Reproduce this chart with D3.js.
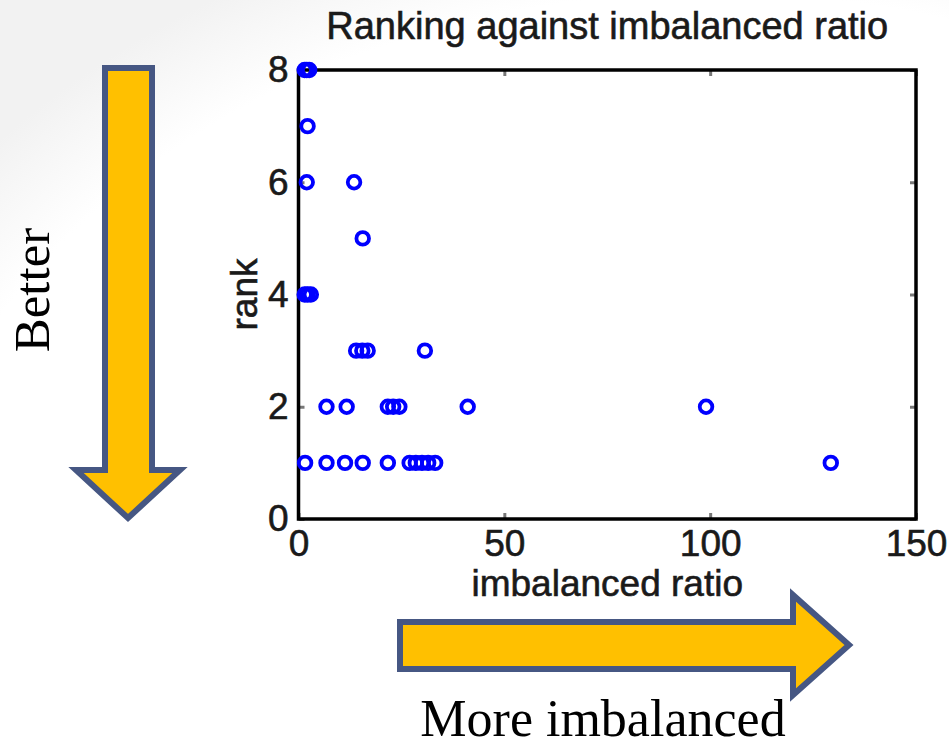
<!DOCTYPE html>
<html>
<head>
<meta charset="utf-8">
<script src="https://cdn.jsdelivr.net/npm/d3@7"></script>
<style>
  body { margin: 0; background: #fff; }
  svg { display: block; }
</style>
</head>
<body>
<div id="chart"></div>
<script>
// ranking against imbalanced ratio (scatter)
const ratios = [1.5, 2.0, 2.6, 2.2, 2.0, 13.5, 15.6, 1.5, 2.2, 3.0,
                14.0, 15.5, 16.8, 30.7,
                6.8, 11.7, 21.7, 23.0, 24.5, 41.1, 99.0,
                1.6, 6.8, 11.3, 15.6, 21.7, 27.0, 28.5, 30.0, 31.5, 33.2, 129.3];
const ranks  = [8, 8, 8, 7, 6, 6, 5, 4, 4, 4,
                3, 3, 3, 3,
                2, 2, 2, 2, 2, 2, 2,
                1, 1, 1, 1, 1, 1, 1, 1, 1, 1, 1];
const xTicks = [0, 50, 100, 150];
const yTicks = [0, 2, 4, 6, 8];

const W = 949, H = 738;
const plot = { left: 298.5, right: 916, top: 70, bottom: 519 };

const svg = d3.select("#chart").append("svg")
  .attr("width", W)
  .attr("height", H);

// faint slide shading in the top-left corner
const defs = svg.append("defs");
const grad = defs.append("radialGradient")
  .attr("id", "bg").attr("cx", "0.75").attr("cy", "0.85").attr("r", "1.0");
grad.append("stop").attr("offset", "0.86").attr("stop-color", "#ffffff");
grad.append("stop").attr("offset", "1").attr("stop-color", "#f2f2f2");
svg.append("rect").attr("width", W).attr("height", H).attr("fill", "url(#bg)");

const x = d3.scaleLinear().domain([0, 150]).range([plot.left, plot.right]);
const y = d3.scaleLinear().domain([0, 8]).range([plot.bottom, plot.top]);

const font = "'Liberation Sans', Arial, sans-serif";
const ink = "#1a1a1a";

const styleText = sel => sel
  .attr("font-family", font)
  .attr("font-size", 37)
  .attr("fill", ink)
  .attr("stroke", ink)
  .attr("stroke-width", 0.6);

// ticks (inward, grey) on all four sides
svg.append("g")
  .attr("transform", `translate(0,${plot.bottom})`)
  .call(d3.axisBottom(x).tickValues(xTicks).tickSize(-6).tickSizeOuter(0).tickPadding(11))
  .call(g => g.select(".domain").remove())
  .call(g => g.selectAll("line").attr("stroke", "#777").attr("stroke-width", 3))
  .call(g => g.selectAll("text").call(styleText));

svg.append("g")
  .attr("transform", `translate(0,${plot.top})`)
  .call(d3.axisTop(x).tickValues(xTicks).tickSize(-6).tickSizeOuter(0).tickFormat(""))
  .call(g => g.select(".domain").remove())
  .call(g => g.selectAll("line").attr("stroke", "#777").attr("stroke-width", 3));

svg.append("g")
  .attr("transform", `translate(${plot.left},0)`)
  .call(d3.axisLeft(y).tickValues(yTicks).tickSize(-6).tickSizeOuter(0).tickPadding(10))
  .call(g => g.select(".domain").remove())
  .call(g => g.selectAll("line").attr("stroke", "#777").attr("stroke-width", 3))
  .call(g => g.selectAll("text").call(styleText));

svg.append("g")
  .attr("transform", `translate(${plot.right},0)`)
  .call(d3.axisRight(y).tickValues(yTicks).tickSize(-6).tickSizeOuter(0).tickFormat(""))
  .call(g => g.select(".domain").remove())
  .call(g => g.selectAll("line").attr("stroke", "#777").attr("stroke-width", 3));

// axes box
svg.append("rect")
  .attr("x", plot.left)
  .attr("y", plot.top)
  .attr("width", plot.right - plot.left)
  .attr("height", plot.bottom - plot.top)
  .attr("fill", "none")
  .attr("stroke", "#000")
  .attr("stroke-width", 3.5);

// title and labels
svg.append("text")
  .attr("x", (plot.left + plot.right) / 2)
  .attr("y", 39)
  .attr("text-anchor", "middle")
  .call(styleText)
  .attr("font-size", 38)
  .text("Ranking against imbalanced ratio");

svg.append("text")
  .attr("x", (plot.left + plot.right) / 2)
  .attr("y", 596)
  .attr("text-anchor", "middle")
  .call(styleText)
  .text("imbalanced ratio");

svg.append("text")
  .attr("transform", `translate(257,${(plot.top + plot.bottom) / 2}) rotate(-90)`)
  .attr("text-anchor", "middle")
  .call(styleText)
  .text("rank");

// points
svg.append("g")
  .selectAll("circle")
  .data(ratios.map((r, i) => ({ ratio: r, rank: ranks[i] })))
  .join("circle")
  .attr("cx", d => x(d.ratio))
  .attr("cy", d => y(d.rank))
  .attr("r", 6.3)
  .attr("fill", "none")
  .attr("stroke", "#0000ff")
  .attr("stroke-width", 3.8);

// annotation arrows
const arrowFill = "#ffc000", arrowStroke = "#465783";

svg.append("path")
  .attr("d", "M105,68 L152,68 L152,470 L180,470 L128,518 L76,470 L105,470 Z")
  .attr("fill", arrowFill)
  .attr("stroke", arrowStroke)
  .attr("stroke-width", 6);

svg.append("path")
  .attr("d", "M400,622 L793,622 L793,595 L849,645 L793,695 L793,669 L400,669 Z")
  .attr("fill", arrowFill)
  .attr("stroke", arrowStroke)
  .attr("stroke-width", 6);

const serif = "'Liberation Serif', 'Times New Roman', serif";

svg.append("text")
  .attr("transform", "translate(49,290) rotate(-90)")
  .attr("text-anchor", "middle")
  .attr("font-family", serif)
  .attr("font-size", 51)
  .attr("fill", "#000")
  .text("Better");

svg.append("text")
  .attr("x", 603)
  .attr("y", 736)
  .attr("text-anchor", "middle")
  .attr("font-family", serif)
  .attr("font-size", 52)
  .attr("fill", "#000")
  .text("More imbalanced");
</script>
</body>
</html>
